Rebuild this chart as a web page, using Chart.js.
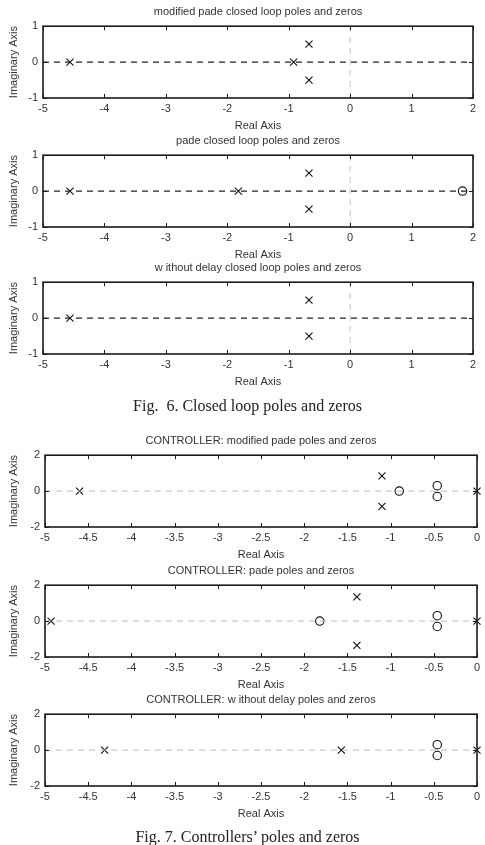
<!DOCTYPE html>
<html>
<head>
<meta charset="utf-8">
<script src="https://cdn.jsdelivr.net/npm/chart.js@4"></script>
<style>
  body { margin: 0; background: #fff; }
  #page { position: relative; width: 485px; height: 845px; overflow: hidden; }
  #page canvas { position: absolute; left: 0; }
  .caption { position: absolute; left: 5px; width: 485px; text-align: center;
             font: 16px "Liberation Serif", "Times New Roman", serif; color: #222; line-height: 20px; }
</style>
</head>
<body>
<div id="page">
  <canvas id="cl1" width="485" height="134" style="top:0px"></canvas>
  <canvas id="cl2" width="485" height="134" style="top:129px"></canvas>
  <canvas id="cl3" width="485" height="134" style="top:256px"></canvas>
  <div class="caption" style="top:396px">Fig.&nbsp; 6. Closed loop poles and zeros</div>
  <canvas id="ct1" width="485" height="134" style="top:429px"></canvas>
  <canvas id="ct2" width="485" height="134" style="top:559px"></canvas>
  <canvas id="ct3" width="485" height="134" style="top:688px"></canvas>
  <div class="caption" style="top:827px">Fig. 7. Controllers’ poles and zeros</div>
</div>
<script>
// axis limits and ticks
const clXRange = [-5, 2];
const clYRange = [-1, 1];
const ctXRange = [-5, 0];
const ctYRange = [-2, 2];
const clXStep = 1, clYStep = 1;
const ctXStep = 0.5, ctYStep = 2;

// closed loop: modified pade
const clModPoleRe = [-4.56, -0.92, -0.67, -0.67];
const clModPoleIm = [0, 0, 0.5, -0.5];
// closed loop: pade
const clPadePoleRe = [-4.56, -1.82, -0.67, -0.67];
const clPadePoleIm = [0, 0, 0.5, -0.5];
const clPadeZeroRe = [1.83];
const clPadeZeroIm = [0];
// closed loop: without delay
const clNoDelPoleRe = [-4.56, -0.67, -0.67];
const clNoDelPoleIm = [0, 0.5, -0.5];

// controller: modified pade
const ctModPoleRe = [-4.6, -1.1, -1.1, 0];
const ctModPoleIm = [0, 0.85, -0.85, 0];
const ctModZeroRe = [-0.9, -0.46, -0.46];
const ctModZeroIm = [0, 0.3, -0.3];
// controller: pade
const ctPadePoleRe = [-4.93, -1.39, -1.39, 0];
const ctPadePoleIm = [0, 1.35, -1.35, 0];
const ctPadeZeroRe = [-1.82, -0.46, -0.46];
const ctPadeZeroIm = [0, 0.3, -0.3];
// controller: without delay
const ctNoDelPoleRe = [-4.31, -1.57, 0];
const ctNoDelPoleIm = [0, 0, 0];
const ctNoDelZeroRe = [-0.46, -0.46];
const ctNoDelZeroIm = [0.3, -0.3];

const FONT = '"Liberation Sans", Arial, sans-serif';
const TEXT = '#333';

const pts = (re, im) => re.map((v, i) => ({x: v, y: im[i]}));

// matlab style frame with inward ticks
const boxTicks = {
    id: 'boxTicks',
    afterDatasetsDraw(chart) {
        const {ctx, chartArea: a, scales: {x, y}} = chart;
        ctx.save();
        ctx.strokeStyle = '#1a1a1a';
        ctx.lineWidth = 1;
        ctx.beginPath();
        x.ticks.forEach(t => {
            const px = Math.round(x.getPixelForValue(t.value)) + 0.5;
            ctx.moveTo(px, a.top); ctx.lineTo(px, a.top + 4);
            ctx.moveTo(px, a.bottom); ctx.lineTo(px, a.bottom - 4);
        });
        y.ticks.forEach(t => {
            const py = Math.round(y.getPixelForValue(t.value)) + 0.5;
            ctx.moveTo(a.left, py); ctx.lineTo(a.left + 4, py);
            ctx.moveTo(a.right, py); ctx.lineTo(a.right - 4, py);
        });
        ctx.stroke();
        ctx.lineWidth = 1.6;
        ctx.strokeRect(a.left, a.top, a.width, a.height);
        ctx.restore();
    }
};

function makePlot(id, title, xr, yr, xs, ys, poles, zeros, closedLoop) {
    const datasets = [];
    // real axis line
    datasets.push({
        type: 'line', data: [{x: xr[0], y: 0}, {x: xr[1], y: 0}],
        borderColor: closedLoop ? '#222' : '#bdbdbd',
        borderWidth: closedLoop ? 1.4 : 1,
        borderDash: [6, 5],
        pointRadius: 0, showLine: true
    });
    if (closedLoop) {
        // imaginary axis line
        datasets.push({
            type: 'line', data: [{x: 0, y: yr[0]}, {x: 0, y: yr[1]}],
            borderColor: '#c8c8c8', borderWidth: 1, borderDash: [6, 5],
            pointRadius: 0, showLine: true
        });
    }
    datasets.push({
        label: 'poles', data: poles, pointStyle: 'crossRot', pointRadius: 5,
        borderColor: '#111', borderWidth: 1.1, clip: false
    });
    if (zeros) {
        datasets.push({
            label: 'zeros', data: zeros, pointStyle: 'circle', pointRadius: 4.2,
            borderColor: '#111', backgroundColor: 'rgba(0,0,0,0)', borderWidth: 1.1, clip: false
        });
    }
    const leftW = closedLoop ? 43 : 45;
    const rightPad = closedLoop ? 12 : 8;
    new Chart(document.getElementById(id), {
        type: 'scatter',
        data: {datasets},
        plugins: [boxTicks],
        options: {
            responsive: false,
            animation: false,
            devicePixelRatio: 1,
            layout: {padding: {left: 0, right: rightPad, top: 0, bottom: 0}},
            plugins: {
                legend: {display: false},
                tooltip: {enabled: false},
                title: {
                    display: true, text: title, fullSize: false, color: TEXT,
                    font: {family: FONT, size: 11, weight: 'normal'},
                    padding: {top: 5, bottom: 8}
                }
            },
            scales: {
                x: {
                    type: 'linear', min: xr[0], max: xr[1],
                    grid: {display: false, drawTicks: false},
                    border: {display: false},
                    ticks: {stepSize: xs, padding: 4, color: TEXT, maxRotation: 0, autoSkip: false,
                            font: {family: FONT, size: 11},
                            callback: v => String(Math.round(v * 100) / 100)},
                    title: {display: true, text: 'Real Axis', color: TEXT,
                            font: {family: FONT, size: 11}, padding: {top: 0, bottom: 1.5}},
                    afterFit: s => { s.height = 36; }
                },
                y: {
                    type: 'linear', min: yr[0], max: yr[1],
                    grid: {display: false, drawTicks: false},
                    border: {display: false},
                    ticks: {stepSize: ys, padding: 5, color: TEXT, font: {family: FONT, size: 11},
                            callback: v => String(v)},
                    title: {display: true, text: 'Imaginary Axis', color: TEXT,
                            font: {family: FONT, size: 11}, padding: {top: 7, bottom: 0}},
                    afterFit: s => { s.width = leftW; }
                }
            }
        }
    });
}

makePlot('cl1', 'modified pade closed loop poles and zeros', clXRange, clYRange, clXStep, clYStep,
    pts(clModPoleRe, clModPoleIm), null, true);
makePlot('cl2', 'pade closed loop poles and zeros', clXRange, clYRange, clXStep, clYStep,
    pts(clPadePoleRe, clPadePoleIm), pts(clPadeZeroRe, clPadeZeroIm), true);
makePlot('cl3', 'w ithout delay closed loop poles and zeros', clXRange, clYRange, clXStep, clYStep,
    pts(clNoDelPoleRe, clNoDelPoleIm), null, true);

makePlot('ct1', 'CONTROLLER: modified pade poles and zeros', ctXRange, ctYRange, ctXStep, ctYStep,
    pts(ctModPoleRe, ctModPoleIm), pts(ctModZeroRe, ctModZeroIm), false);
makePlot('ct2', 'CONTROLLER: pade poles and zeros', ctXRange, ctYRange, ctXStep, ctYStep,
    pts(ctPadePoleRe, ctPadePoleIm), pts(ctPadeZeroRe, ctPadeZeroIm), false);
makePlot('ct3', 'CONTROLLER: w ithout delay poles and zeros', ctXRange, ctYRange, ctXStep, ctYStep,
    pts(ctNoDelPoleRe, ctNoDelPoleIm), pts(ctNoDelZeroRe, ctNoDelZeroIm), false);
</script>
</body>
</html>
